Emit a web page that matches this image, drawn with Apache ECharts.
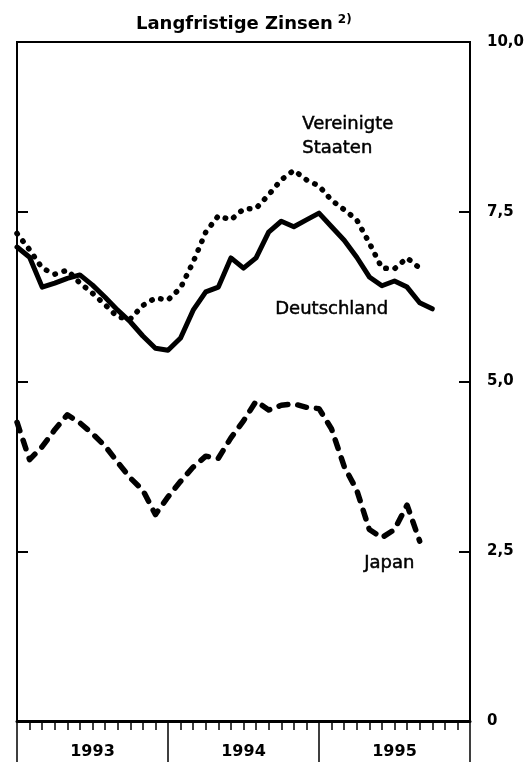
<!DOCTYPE html>
<html>
<head>
<meta charset="utf-8">
<script src="https://cdn.jsdelivr.net/npm/echarts@6/dist/echarts.min.js"></script>
<style>
  html, body { margin: 0; padding: 0; background: #fff; }
  #chart { width: 526px; height: 762px; }
</style>
</head>
<body>
<div id="chart"></div>
<script>
// months counted from Jan 1993 (0) to Dec 1995 (36)
const years = ['1993', '1994', '1995'];
const yTicks = [0, 2.5, 5, 7.5, 10];

// Deutschland, Jan 1993 .. Oct 1995
const deutschland = [6.98, 6.83, 6.39, 6.45, 6.52, 6.57, 6.42, 6.24, 6.05, 5.88,
    5.67, 5.49, 5.46, 5.64, 6.05, 6.32, 6.39, 6.82, 6.67, 6.82,
    7.20, 7.36, 7.28, 7.38, 7.48, 7.28, 7.08, 6.83, 6.54, 6.41,
    6.48, 6.39, 6.16, 6.07];

// Vereinigte Staaten, Jan 1993 .. Sep 1995
const usa = [7.18, 6.94, 6.67, 6.58, 6.64, 6.45, 6.30, 6.13, 5.95, 5.92,
    6.12, 6.23, 6.20, 6.38, 6.76, 7.20, 7.44, 7.38, 7.54, 7.55,
    7.75, 7.97, 8.11, 7.97, 7.88, 7.67, 7.53, 7.38, 7.04, 6.67,
    6.66, 6.82, 6.67];

// Japan, Jan 1993 .. Sep 1995
const japan = [4.40, 3.85, 4.04, 4.29, 4.51, 4.39, 4.23, 4.05, 3.81, 3.58,
    3.40, 3.04, 3.30, 3.53, 3.74, 3.90, 3.87, 4.17, 4.42, 4.71,
    4.58, 4.65, 4.67, 4.62, 4.60, 4.30, 3.75, 3.40, 2.82, 2.70,
    2.82, 3.18, 2.65];

const toPairs = (arr) => arr.map((v, i) => [i, v]);

const chart = echarts.init(document.getElementById('chart'), null, { renderer: 'canvas' });

const FONT = '"DejaVu Sans", sans-serif';

const yAxisBase = {
    type: 'value',
    min: yTicks[0],
    max: yTicks[yTicks.length - 1],
    interval: 2.5,
    axisLine: { show: false, onZero: false },
    axisTick: { show: true, inside: true, length: 11, lineStyle: { color: '#000', width: 2 } },
    splitLine: { show: false },
};

const option = {
    animation: false,
    backgroundColor: '#fff',
    title: {
        text: '{a|Langfristige Zinsen} {b|2)}',
        left: 131,
        top: 9,
        textStyle: {
            rich: {
                a: { fontFamily: FONT, fontWeight: 'bold', fontSize: 18, color: '#000' },
                b: { fontFamily: FONT, fontWeight: 'bold', fontSize: 12, color: '#000', padding: [0, 0, 9, 0] },
            },
        },
    },
    grid: {
        left: 17,
        right: 56,
        top: 42,
        bottom: 41,
        show: true,
        borderColor: '#000',
        borderWidth: 2,
        containLabel: false,
        outerBoundsMode: 'none',
    },
    xAxis: [
        {
            type: 'value',
            min: 0,
            max: 36,
            interval: 1,
            position: 'bottom',
            axisLine: { show: true, onZero: false, lineStyle: { color: '#000', width: 3 } },
            axisTick: { show: true, length: 9, lineStyle: { color: '#000', width: 1.5 } },
            axisLabel: { show: false },
            splitLine: { show: false },
        },
        {
            type: 'value',
            min: 0,
            max: 36,
            interval: 12,
            position: 'bottom',
            axisLine: { show: false, onZero: false },
            axisTick: { show: true, length: 41, lineStyle: { color: '#000', width: 1.5 } },
            axisLabel: { show: false },
            splitLine: { show: false },
        },
        {
            type: 'value',
            min: 0,
            max: 36,
            interval: 6,
            position: 'bottom',
            axisLine: { show: false, onZero: false },
            axisTick: { show: false },
            axisLabel: {
                show: true,
                margin: 23,
                fontFamily: FONT,
                fontWeight: 'bold',
                fontSize: 16,
                color: '#000',
                showMinLabel: false,
                showMaxLabel: false,
                formatter: (v) => (v % 12 === 6 ? years[(v - 6) / 12] : ''),
            },
            splitLine: { show: false },
        },
    ],
    yAxis: [
        {
            ...yAxisBase,
            position: 'right',
            axisLabel: {
                margin: 17,
                align: 'left',
                fontFamily: FONT,
                fontWeight: 'bold',
                fontSize: 15,
                color: '#000',
                formatter: (v) => (v === 0 ? '0' : v.toFixed(1).replace('.', ',')),
            },
        },
        {
            ...yAxisBase,
            position: 'left',
            axisLabel: { show: false },
        },
    ],
    graphic: [
        {
            type: 'text',
            left: 302,
            top: 112,
            style: {
                text: 'Vereinigte\nStaaten',
                font: '18px "DejaVu Sans", sans-serif',
                lineHeight: 24,
                fill: '#000',
                stroke: '#000',
                lineWidth: 0.5,
            },
        },
        {
            type: 'text',
            left: 275,
            top: 300,
            style: {
                text: 'Deutschland',
                font: '18px "DejaVu Sans", sans-serif',
                fill: '#000',
                stroke: '#000',
                lineWidth: 0.5,
            },
        },
        {
            type: 'text',
            left: 364,
            top: 554,
            style: {
                text: 'Japan',
                font: '18px "DejaVu Sans", sans-serif',
                fill: '#000',
                stroke: '#000',
                lineWidth: 0.5,
            },
        },
    ],
    series: [
        {
            name: 'Deutschland',
            type: 'line',
            xAxisIndex: 0,
            yAxisIndex: 0,
            data: toPairs(deutschland),
            showSymbol: false,
            symbol: 'none',
            lineStyle: { color: '#000', width: 5, join: 'round', cap: 'round' },
        },
        {
            name: 'Vereinigte Staaten',
            type: 'line',
            xAxisIndex: 0,
            yAxisIndex: 0,
            data: toPairs(usa),
            showSymbol: false,
            symbol: 'none',
            lineStyle: { color: '#000', width: 5.5, type: [0.5, 9], cap: 'round', join: 'round' },
        },
        {
            name: 'Japan',
            type: 'line',
            xAxisIndex: 0,
            yAxisIndex: 0,
            data: toPairs(japan),
            showSymbol: false,
            symbol: 'none',
            lineStyle: { color: '#000', width: 5.5, type: [9, 10], cap: 'round', join: 'round' },
        },
    ],
};

chart.setOption(option);
</script>
</body>
</html>
